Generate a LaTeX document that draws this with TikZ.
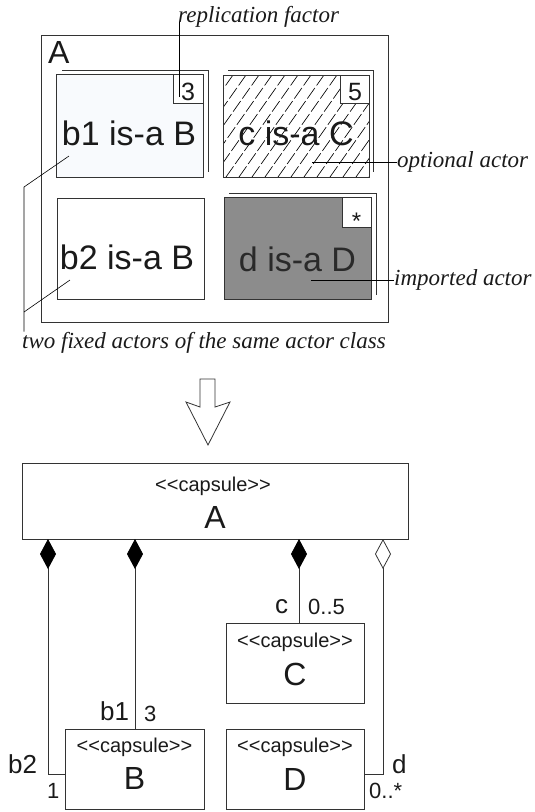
\documentclass[tikz,border=0pt]{standalone}
\usepackage{fontspec}
\setmainfont{Liberation Sans}
\newfontfamily\annfont{Liberation Serif}
\usetikzlibrary{arrows.meta}
\definecolor{ln}{HTML}{333333}
\definecolor{bfill}{HTML}{F8FAFD}
\definecolor{dfill}{HTML}{8C8C8C}
\definecolor{txtc}{HTML}{1A1A1A}
\definecolor{dtxt}{HTML}{2A2A2A}
\newcommand{\fs}[1]{\fontsize{#1}{#1}\selectfont}
\newcommand{\stereo}{<\kern0pt<capsule>\kern0pt>}
\begin{document}
\begin{tikzpicture}[x=1pt,y=-1pt,
  box/.style={draw=ln, line width=0.8pt, rectangle, inner sep=0pt, anchor=north west},
  txt/.style={inner sep=0pt, text=txtc, anchor=base},
  big/.style={txt, font=\fs{34}},
  ann/.style={inner sep=0pt, text=txtc, anchor=base west, font=\annfont\itshape\fs{23}},
  lead/.style={draw=black, line width=0.6pt},
  shad/.style={draw=ln, line width=0.8pt},
  conn/.style={draw=ln, line width=0.8pt},
  comp/.style={conn, {Diamond[length=30pt,width=16pt,fill=black,color=black]}-},
  aggr/.style={conn, {Diamond[length=30pt,width=16pt,fill=white]}-},
  ster/.style={txt, font=\fs{20}},
  cname/.style={txt, font=\fs{32}},
  role/.style={inner sep=0pt, text=txtc, anchor=base west, font=\fs{26}},
  mult/.style={inner sep=0pt, text=txtc, anchor=base west, font=\fs{22}},
]
\useasboundingbox (0,0) rectangle (535,812);

% ---------- upper part: structure diagram ----------
\node[box, minimum width=347pt, minimum height=287pt] (Aouter) at (41,35) {};
\node[txt, anchor=base west, font=\fs{32}] (Alab) at (48,63) {A};

% b1
\draw[shad] (62,70) -- (208,70) -- (208,172);
\node[box, fill=bfill, minimum width=147pt, minimum height=103pt] (b1) at (56,74) {};
\node[box, fill=white, minimum width=30pt, minimum height=29pt, anchor=north east] (r3) at (b1.north east) {};
\node[txt, font=\fs{25}] (r3t) at (188,100) {3};
\node[big] (b1t) at (129,145) {b1 is-a B};

% c
\draw[shad] (228,70) -- (373,70) -- (373,172);
\begin{scope}
  \clip (223,75) rectangle (369,177);
  \foreach \k in {148,161,...,372}
    \draw[black, line width=0.65pt, dash pattern=on 13pt off 3pt] (\k,177) -- ++(72,-102);
\end{scope}
\node[box, minimum width=146pt, minimum height=102pt] (cbox) at (223,75) {};
\node[box, fill=white, minimum width=29pt, minimum height=28pt, anchor=north east] (r5) at (cbox.north east) {};
\node[txt, font=\fs{25}] (r5t) at (355,100) {5};
\node[big] (ct) at (296,145) {c is-a C};

% b2
\node[box, minimum width=147pt, minimum height=101pt] (b2) at (57,198) {};
\node[big] (b2t) at (127,269) {b2 is-a B};

% d
\draw[shad] (229,193) -- (376,193) -- (376,295);
\node[box, fill=dfill, minimum width=147pt, minimum height=102pt] (dbox) at (224,197) {};
\node[box, fill=white, minimum width=29pt, minimum height=30pt, anchor=north east] (rs) at (dbox.north east) {};
\node[txt, font=\fs{24}] (rst) at (356.5,229) {*};
\node[big, text=dtxt] (dt) at (297.5,271) {d is-a D};

% annotations
\node[ann] (repl) at (178,22) {replication factor};
\coordinate (rp) at (179,97);
\draw[lead] (rp) -- (rp |- repl.base);

\node[ann] (opt) at (397,167) {optional actor};
\coordinate (op) at (312,162);
\draw[lead] (op) -- (op -| opt.west);

\node[ann] (imp) at (394,285) {imported actor};
\coordinate (ip) at (311,280);
\draw[lead] (ip) -- (ip -| imp.west);

\node[ann] (two) at (22,348) {two fixed actors of the same actor class};
\coordinate (t1) at (69,156);
\coordinate (t2) at (70,280);
\coordinate (tk) at (24,187);
\coordinate (tk2) at (24,312);
\draw[lead] (t1) -- (tk) -- (tk |- two.north);
\draw[lead] (t2) -- (tk2);

% transformation arrow
\draw[ln, line width=0.8pt, fill=white, line join=miter]
  (200,379) -- (215,379) -- (215,407) -- (230,402) -- (208,445) -- (186,402) -- (200,407) -- cycle;

% ---------- lower part: class diagram ----------
\node[box, minimum width=386pt, minimum height=76pt] (CA) at (22,463) {};
\node[ster] (CAs) at (213,491) {\stereo};
\node[cname] (CAn) at (215,528) {A};

\node[box, minimum width=138pt, minimum height=80pt] (CC) at (226,623) {};
\node[ster] (CCs) at (295,647) {\stereo};
\node[cname] (CCn) at (295,685) {C};

\node[box, minimum width=139pt, minimum height=80pt] (CB) at (65,729) {};
\node[ster] (CBs) at (134.5,752) {\stereo};
\node[cname] (CBn) at (134.5,789) {B};

\node[box, minimum width=138pt, minimum height=80pt] (CD) at (226,729) {};
\node[ster] (CDs) at (295,752) {\stereo};
\node[cname] (CDn) at (295,790) {D};

\coordinate (p1) at (48,539);
\coordinate (p2) at (135,539);
\coordinate (p3) at (299,539);
\coordinate (p4) at (383,539);
\draw[comp] (p1) |- ([yshift=-5pt]CB.west);
\draw[comp] (p2) -- (CB.north -| p2);
\draw[comp] (p3) -- (CC.north -| p3);
\draw[aggr] (p4) |- ([yshift=-5pt]CD.east);

\node[role] (lb2) at (8,773) {b2};
\node[mult] (m1) at (47,798) {1};
\node[role] (lb1) at (100,720) {b1};
\node[mult] (m3) at (144,721) {3};
\node[role] (lc) at (275,613) {c};
\node[mult] (m05) at (308,614) {0..5};
\node[role] (ld) at (392,773) {d};
\node[mult] (m0s) at (369,798) {0..*};
\end{tikzpicture}
\end{document}
